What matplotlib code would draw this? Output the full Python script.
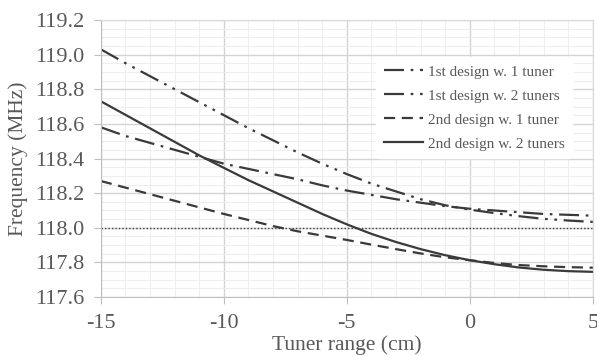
import matplotlib
matplotlib.use("Agg")
import matplotlib.pyplot as plt
from matplotlib.ticker import MultipleLocator, FormatStrFormatter

x = list(range(-15, 6))
d1_t1 = [118.58, 118.53, 118.49, 118.45, 118.41, 118.37, 118.34, 118.31, 118.28, 118.245,
         118.215, 118.19, 118.165, 118.145, 118.125, 118.11, 118.10, 118.09, 118.08, 118.075, 118.07]
d1_t2 = [119.03, 118.95, 118.875, 118.80, 118.725, 118.65, 118.575, 118.505, 118.435, 118.37,
         118.31, 118.255, 118.21, 118.165, 118.13, 118.105, 118.085, 118.067, 118.052, 118.042, 118.034]
d2_t1 = [118.27, 118.232, 118.194, 118.156, 118.118, 118.08, 118.045, 118.01, 117.98, 117.955,
         117.93, 117.903, 117.877, 117.852, 117.83, 117.813, 117.797, 117.785, 117.778, 117.773, 117.77]
d2_t2 = [118.73, 118.652, 118.574, 118.496, 118.418, 118.346, 118.275, 118.21, 118.145, 118.08,
         118.02, 117.965, 117.918, 117.877, 117.842, 117.813, 117.79, 117.771, 117.758, 117.75, 117.746]
target = 118.0
labels = ["1st design w. 1 tuner", "1st design w. 2 tuners",
          "2nd design w. 1 tuner", "2nd design w. 2 tuners"]

plt.rcParams['font.family'] = ['Liberation Serif', 'DejaVu Serif']
plt.rcParams['axes.unicode_minus'] = False
txt = '#595959'
fig = plt.figure(figsize=(5.97, 3.55), dpi=100)
ax = fig.add_axes([0.169, 0.163, 0.824, 0.781])

lc = '#3a3a3a'
ax.plot(x, d1_t1, color=lc, lw=1.6, dashes=(9, 3, 1.2, 3), label=labels[0])
ax.plot(x, d1_t2, color=lc, lw=1.6, dashes=(9, 3, 1.2, 3, 1.2, 3), label=labels[1])
ax.plot(x, d2_t1, color=lc, lw=1.6, dashes=(5, 3), label=labels[2])
ax.plot(x, d2_t2, color=lc, lw=1.6, label=labels[3])
ax.axhline(target, color='#404040', lw=1.0, ls=(0, (1, 1.5)))

ax.set_xlim(-15, 5)
ax.set_ylim(117.6, 119.2)
ax.xaxis.set_major_locator(MultipleLocator(5))
ax.xaxis.set_minor_locator(MultipleLocator(1))
ax.yaxis.set_major_locator(MultipleLocator(0.2))
ax.yaxis.set_minor_locator(MultipleLocator(0.05))
ax.grid(which='major', color='#d4d4d4', lw=1.0)
ax.grid(which='minor', color='#eeeeee', lw=0.8)
ax.set_axisbelow(True)
ax.yaxis.set_major_formatter(FormatStrFormatter('%.1f'))

for s in ['top', 'right']:
    ax.spines[s].set_color('#d9d9d9')
for s in ['left', 'bottom']:
    ax.spines[s].set_color('#bfbfbf')
ax.tick_params(which='major', colors='#bfbfbf', labelcolor=txt, labelsize=16, length=5)
ax.tick_params(axis='y', pad=7)
ax.tick_params(axis='x', pad=7)
ax.tick_params(which='minor', length=0)

ax.set_xlabel('Tuner range (cm)', color=txt, fontsize=15.5, labelpad=2)
ax.set_ylabel('Frequency (MHz)', color=txt, fontsize=15.5, labelpad=5)

leg = ax.legend(loc='upper right', bbox_to_anchor=(0.974, 0.893), frameon=True,
                fontsize=11, handlelength=2.6, handletextpad=0.3,
                labelspacing=0.68, borderpad=0.5)
leg.get_frame().set_edgecolor('white')
leg.get_frame().set_facecolor('white')
leg.get_frame().set_alpha(1)
for t in leg.get_texts():
    t.set_color(txt)

fig.savefig('out.png', dpi=100)
